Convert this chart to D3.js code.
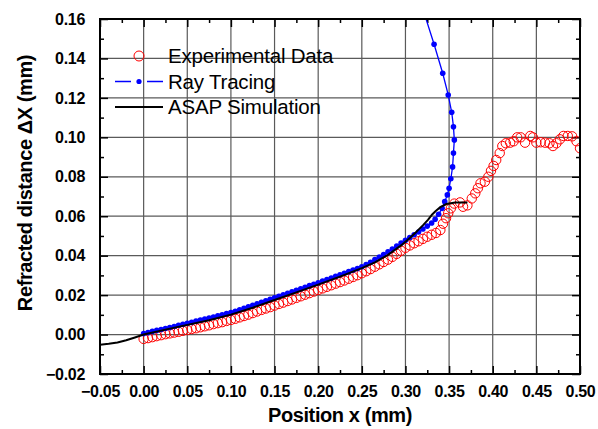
<!DOCTYPE html>
<html>
<head>
<meta charset="utf-8">
<script src="https://cdn.jsdelivr.net/npm/d3@7"></script>
<style>
  body { margin: 0; background: #fff; }
  text { font-family: "Liberation Sans", Arial, sans-serif; }
</style>
</head>
<body>
<svg id="chart" width="598" height="429"></svg>
<script>
// --- data ---
const expX = [0.000, 0.005, 0.010, 0.015, 0.020, 0.025, 0.030, 0.035, 0.040, 0.045,
  0.050, 0.055, 0.060, 0.065, 0.070, 0.075, 0.080, 0.085, 0.090, 0.095,
  0.100, 0.105, 0.110, 0.115, 0.120, 0.125, 0.130, 0.135, 0.140, 0.145,
  0.150, 0.155, 0.160, 0.165, 0.170, 0.175, 0.180, 0.185, 0.190, 0.195,
  0.200, 0.205, 0.210, 0.215, 0.220, 0.225, 0.230, 0.235, 0.240, 0.245,
  0.250, 0.255, 0.260, 0.265, 0.270, 0.275, 0.280, 0.285, 0.290, 0.295,
  0.300, 0.305, 0.310, 0.315, 0.320, 0.325, 0.330, 0.335, 0.340, 0.343,
  0.3465, 0.349, 0.352, 0.356, 0.3625, 0.366, 0.371, 0.376, 0.380, 0.383,
  0.386, 0.391, 0.395, 0.398, 0.401, 0.404, 0.408, 0.411, 0.415, 0.420,
  0.424, 0.428, 0.432, 0.437, 0.443, 0.446, 0.450, 0.455, 0.460, 0.465,
  0.469, 0.473, 0.477, 0.481, 0.486, 0.491, 0.496, 0.500];
const expY = [-0.0022, -0.0018, -0.0013, -0.0008, -0.0003, 0.0002, 0.0006, 0.0010, 0.0014, 0.0019,
  0.0023, 0.0028, 0.0032, 0.0037, 0.0042, 0.0047, 0.0053, 0.0058, 0.0063, 0.0069,
  0.0074, 0.0080, 0.0087, 0.0094, 0.0101, 0.0109, 0.0117, 0.0125, 0.0132, 0.0139,
  0.0147, 0.0155, 0.0162, 0.0170, 0.0178, 0.0186, 0.0194, 0.0202, 0.0210, 0.0218,
  0.0226, 0.0234, 0.0242, 0.0250, 0.0258, 0.0266, 0.0274, 0.0283, 0.0292, 0.0301,
  0.0311, 0.0321, 0.0332, 0.0344, 0.0356, 0.0368, 0.0380, 0.0394, 0.0409, 0.0425,
  0.0440, 0.0452, 0.0463, 0.0473, 0.0485, 0.0496, 0.0506, 0.0515, 0.0530, 0.0562,
  0.0590, 0.0615, 0.0640, 0.0664, 0.0670, 0.0648, 0.0655, 0.0690, 0.0716, 0.0742,
  0.0767, 0.0775, 0.0800, 0.0830, 0.0855, 0.0885, 0.0920, 0.0956, 0.0970, 0.0973,
  0.0980, 0.1000, 0.1000, 0.0973, 0.1007, 0.1000, 0.0973, 0.0975, 0.0973, 0.0970,
  0.0956, 0.0970, 0.0990, 0.1007, 0.1007, 0.1005, 0.0980, 0.0945];

const rayX = [0.000, 0.005, 0.010, 0.015, 0.020, 0.025, 0.030, 0.035, 0.040, 0.045,
  0.050, 0.055, 0.060, 0.065, 0.070, 0.075, 0.080, 0.085, 0.090, 0.095,
  0.100, 0.105, 0.110, 0.115, 0.120, 0.125, 0.130, 0.135, 0.140, 0.145,
  0.150, 0.155, 0.160, 0.165, 0.170, 0.175, 0.180, 0.185, 0.190, 0.195,
  0.200, 0.205, 0.210, 0.215, 0.220, 0.225, 0.230, 0.235, 0.240, 0.245,
  0.250, 0.255, 0.260, 0.265, 0.270, 0.275, 0.280, 0.285, 0.290, 0.295,
  0.300, 0.305, 0.310, 0.315, 0.320, 0.325, 0.330, 0.334, 0.338, 0.342,
  0.345, 0.348, 0.350, 0.352, 0.354, 0.355, 0.356, 0.355, 0.353, 0.349,
  0.3427, 0.3328, 0.320];
const rayY = [0.0005, 0.0010, 0.0016, 0.0021, 0.0026, 0.0031, 0.0036, 0.0041, 0.0047, 0.0052,
  0.0057, 0.0062, 0.0068, 0.0073, 0.0078, 0.0084, 0.0089, 0.0095, 0.0100, 0.0106,
  0.0111, 0.0118, 0.0126, 0.0133, 0.0141, 0.0148, 0.0156, 0.0164, 0.0171, 0.0179,
  0.0187, 0.0194, 0.0202, 0.0209, 0.0217, 0.0225, 0.0232, 0.0240, 0.0248, 0.0255,
  0.0263, 0.0271, 0.0279, 0.0287, 0.0295, 0.0303, 0.0311, 0.0319, 0.0327, 0.0335,
  0.0344, 0.0355, 0.0367, 0.0380, 0.0393, 0.0406, 0.0420, 0.0434, 0.0449, 0.0464,
  0.0478, 0.0492, 0.0506, 0.0520, 0.0535, 0.0550, 0.0566, 0.0585, 0.0610, 0.0640,
  0.0674, 0.0708, 0.0742, 0.0790, 0.0850, 0.0920, 0.0987, 0.1054, 0.1127, 0.1215,
  0.1325, 0.1472, 0.1650];

const asapX = [-0.05, -0.04, -0.03, -0.02, -0.01, 0.000, 0.025, 0.050, 0.075, 0.100,
  0.125, 0.150, 0.175, 0.200, 0.225, 0.250, 0.265, 0.280, 0.295, 0.305,
  0.313, 0.3205, 0.326, 0.330, 0.335, 0.340, 0.347, 0.357, 0.371];
const asapY = [-0.0052, -0.0047, -0.0040, -0.0029, -0.0015, 0.0000, 0.0025, 0.0049, 0.0073, 0.0101,
  0.0136, 0.0175, 0.0214, 0.0253, 0.0294, 0.0337, 0.0366, 0.0404, 0.0452, 0.0490,
  0.0523, 0.0556, 0.0583, 0.0606, 0.0628, 0.0646, 0.0662, 0.0670, 0.0670];

const xTickValues = [-0.05, 0.00, 0.05, 0.10, 0.15, 0.20, 0.25, 0.30, 0.35, 0.40, 0.45, 0.50];
const yTickValues = [-0.02, 0.00, 0.02, 0.04, 0.06, 0.08, 0.10, 0.12, 0.14, 0.16];
const legendLabels = ['Experimental Data', 'Ray Tracing', 'ASAP Simulation'];

const svg = d3.select('#chart');
const margin = { top: 19, right: 18, bottom: 55, left: 100 };
const width = +svg.attr('width') - margin.left - margin.right;
const height = +svg.attr('height') - margin.top - margin.bottom;

const x = d3.scaleLinear().domain([-0.05, 0.50]).range([0, width]);
const y = d3.scaleLinear().domain([-0.02, 0.16]).range([height, 0]);

const g = svg.append('g').attr('transform', `translate(${margin.left},${margin.top})`);

g.append('clipPath').attr('id', 'plot-clip')
  .append('rect').attr('width', width).attr('height', height);

// grid
g.append('g').selectAll('line').data(xTickValues.slice(1, -1)).enter().append('line')
  .attr('x1', d => x(d)).attr('x2', d => x(d)).attr('y1', 0).attr('y2', height)
  .attr('stroke', '#5a5a5a').attr('stroke-width', 1.2);
g.append('g').selectAll('line').data(yTickValues.slice(1, -1)).enter().append('line')
  .attr('y1', d => y(d)).attr('y2', d => y(d)).attr('x1', 0).attr('x2', width)
  .attr('stroke', '#5a5a5a').attr('stroke-width', 1.2);

// axes with inward ticks
const minorX = d3.range(-0.025, 0.5, 0.05);
const minorY = d3.range(-0.01, 0.16, 0.02);
const fmt = d3.format('.2f');

const styleAxis = sel => {
  sel.select('.domain').remove();
  sel.selectAll('.tick line').attr('stroke', '#000').attr('stroke-width', 1.5);
  sel.selectAll('text').attr('font-size', 16).attr('font-weight', 'bold')
    .attr('letter-spacing', '-0.3px').attr('fill', '#000');
};

g.append('g').attr('transform', `translate(0,${height})`)
  .call(d3.axisBottom(x).tickValues(xTickValues).tickFormat(fmt).tickSize(-8).tickPadding(12))
  .call(styleAxis);
g.append('g').attr('transform', `translate(0,${height})`)
  .call(d3.axisBottom(x).tickValues(minorX).tickFormat('').tickSize(-4))
  .call(styleAxis);
g.append('g')
  .call(d3.axisLeft(y).tickValues(yTickValues).tickFormat(fmt).tickSize(-8).tickPadding(15))
  .call(styleAxis);
g.append('g')
  .call(d3.axisLeft(y).tickValues(minorY).tickFormat('').tickSize(-4))
  .call(styleAxis);
g.append('g')
  .call(d3.axisTop(x).tickValues(xTickValues).tickFormat('').tickSize(-8))
  .call(styleAxis);
g.append('g')
  .call(d3.axisTop(x).tickValues(minorX).tickFormat('').tickSize(-4))
  .call(styleAxis);
g.append('g').attr('transform', `translate(${width},0)`)
  .call(d3.axisRight(y).tickValues(yTickValues).tickFormat('').tickSize(-8))
  .call(styleAxis);
g.append('g').attr('transform', `translate(${width},0)`)
  .call(d3.axisRight(y).tickValues(minorY).tickFormat('').tickSize(-4))
  .call(styleAxis);

// series
const plot = g.append('g').attr('clip-path', 'url(#plot-clip)');

const expData = expX.map((v, i) => [v, expY[i]]);
const rayData = rayX.map((v, i) => [v, rayY[i]]);
const asapData = asapX.map((v, i) => [v, asapY[i]]);

plot.append('g').selectAll('circle').data(expData).enter().append('circle')
  .attr('cx', d => x(d[0])).attr('cy', d => y(d[1])).attr('r', 4.7)
  .attr('fill', 'none').attr('stroke', '#ff0000').attr('stroke-width', 1);

const line = d3.line().x(d => x(d[0])).y(d => y(d[1]));

plot.append('path').datum(rayData).attr('d', line)
  .attr('fill', 'none').attr('stroke', '#0000ff').attr('stroke-width', 1.3);
plot.append('g').selectAll('circle').data(rayData).enter().append('circle')
  .attr('cx', d => x(d[0])).attr('cy', d => y(d[1])).attr('r', 2.8)
  .attr('fill', '#0000ff');

plot.append('path').datum(asapData).attr('d', line)
  .attr('fill', 'none').attr('stroke', '#000').attr('stroke-width', 2)
  .attr('stroke-linejoin', 'round');

// frame
g.append('rect').attr('width', width).attr('height', height)
  .attr('fill', 'none').attr('stroke', '#000').attr('stroke-width', 2);

// legend
const lg = g.append('g').attr('transform', 'translate(15,37)');
const rowGap = 25.5;
lg.append('circle').attr('cx', 24).attr('cy', 0).attr('r', 5)
  .attr('fill', 'none').attr('stroke', '#ff0000').attr('stroke-width', 1);
lg.append('line').attr('x1', 0).attr('x2', 48).attr('y1', rowGap).attr('y2', rowGap)
  .attr('stroke', '#0000ff').attr('stroke-width', 1.3).attr('stroke-dasharray', '16,16');
lg.append('circle').attr('cx', 24).attr('cy', rowGap).attr('r', 2.6).attr('fill', '#0000ff');
lg.append('line').attr('x1', 0).attr('x2', 48).attr('y1', rowGap * 2).attr('y2', rowGap * 2)
  .attr('stroke', '#000').attr('stroke-width', 2);
lg.selectAll('text.lbl').data(legendLabels).enter().append('text')
  .attr('class', 'lbl')
  .attr('x', 53).attr('y', (d, i) => i * rowGap + 7)
  .attr('font-size', 20.5).attr('letter-spacing', '-0.2px').text(d => d);

// axis titles
svg.append('text')
  .attr('x', margin.left + x(0.225)).attr('y', 422)
  .attr('text-anchor', 'middle').attr('font-size', 20).attr('font-weight', 'bold')
  .attr('letter-spacing', '-0.4px')
  .text('Position x (mm)');
svg.append('text')
  .attr('transform', `translate(32,183) rotate(-90)`)
  .attr('text-anchor', 'middle').attr('font-size', 20).attr('font-weight', 'bold')
  .attr('letter-spacing', '-0.4px')
  .text('Refracted distance ΔX (mm)');
</script>
</body>
</html>
